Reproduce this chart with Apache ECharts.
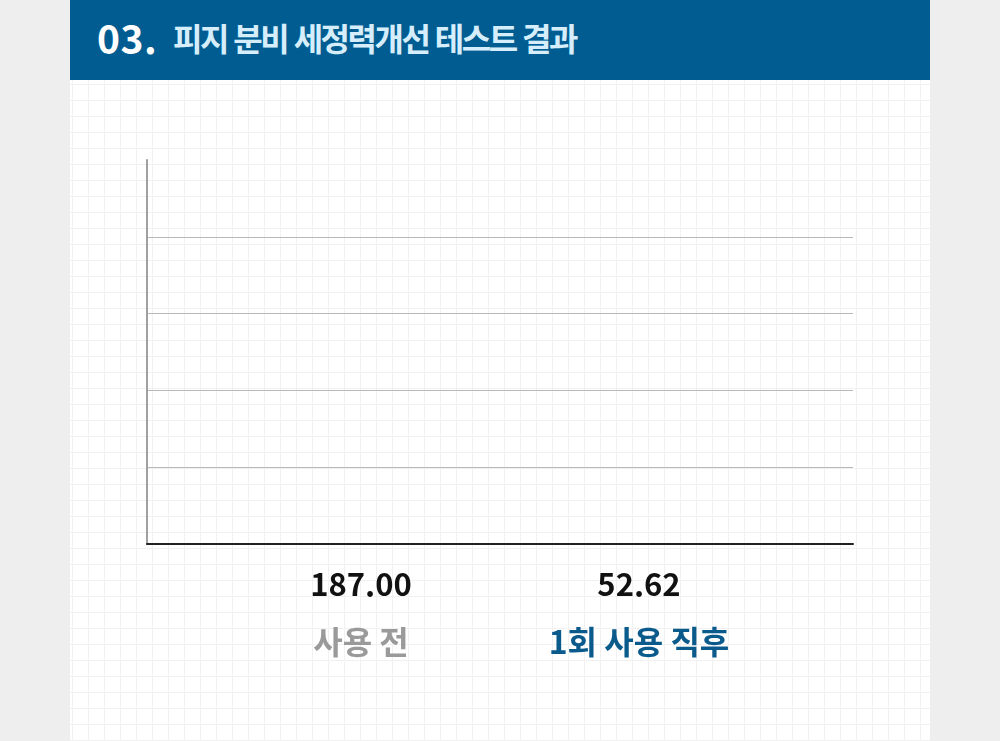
<!DOCTYPE html>
<html lang="ko">
<head>
    <meta charset="UTF-8">
    <title>피지 분비 세정력개선 테스트 결과</title>
    <script type="text/javascript" src="https://cdn.jsdelivr.net/npm/echarts@6/dist/echarts.min.js"></script>
    <style>
        html, body { margin: 0; padding: 0; }
        body {
            width: 1000px; height: 741px; overflow: hidden; position: relative;
            background: #eeeeee;
            font-family: "Noto Sans CJK KR", "Noto Sans", sans-serif;
        }
        #panel {
            position: absolute; left: 70px; top: 0; width: 860px; height: 741px;
            background-color: #ffffff;
            background-image:
                linear-gradient(#f1f1f1 1px, transparent 1px),
                linear-gradient(90deg, #f1f1f1 1px, transparent 1px);
            background-size: 16px 16px;
            background-position: 2px 4px;
        }
        #header {
            position: absolute; left: 70px; top: 0; width: 860px; height: 80px;
            background: #015d91;
        }
        #header .num {
            position: absolute; left: 27px; top: 9px;
            color: #ffffff; font-size: 39px; font-weight: 700; letter-spacing: 0.5px;
        }
        #header .ttl {
            position: absolute; left: 103px; top: 14px;
            color: #d6eefc; font-size: 32px; font-weight: 700; letter-spacing: -2.5px;
        }
        #main { position: absolute; left: 0; top: 0; width: 1000px; height: 741px; }
    </style>
</head>
<body>
<div id="panel"></div>
<div id="header"><span class="num">03.</span><span class="ttl">피지 분비 세정력개선 테스트 결과</span></div>
<div id="main"></div>
<script type="text/javascript">
    // 데이터
    var categories = ['사용 전', '1회 사용 직후'];
    var values = [187.00, 52.62];
    var nameColors = ['#9a9a9a', '#0a5a8c'];

    var rich = {
        v: { fontSize: 31, fontWeight: 700, color: '#111111', lineHeight: 58,
             fontFamily: 'Noto Sans CJK KR' }
    };
    nameColors.forEach(function (c, i) {
        rich['c' + i] = { fontSize: 32, fontWeight: 700, color: c, lineHeight: 58,
                          fontFamily: 'Noto Sans CJK KR' };
    });

    var option = {
        animation: false,
        grid: [
            { left: 147, right: 147, top: 160, bottom: 197 },
            { left: 222, right: 222, top: 160, bottom: 197 }
        ],
        xAxis: [
            {
                gridIndex: 0,
                type: 'category',
                data: categories,
                axisLine: { lineStyle: { color: '#222222', width: 2 } },
                axisTick: { show: false },
                axisLabel: { show: false }
            },
            {
                gridIndex: 1,
                type: 'category',
                data: categories,
                axisLine: { show: false },
                axisTick: { show: false },
                axisLabel: {
                    margin: 11,
                    formatter: function (value, index) {
                        return '{v|' + values[index].toFixed(2) + '}\n{c' + index + '|' + value + '}';
                    },
                    rich: rich
                }
            }
        ],
        yAxis: [
            {
                gridIndex: 0,
                type: 'value',
                min: 0,
                max: 250,
                interval: 50,
                axisLine: { show: true, lineStyle: { color: '#a0a0a0', width: 2 } },
                axisTick: { show: false },
                axisLabel: { show: false },
                splitLine: {
                    lineStyle: {
                        color: ['#b8b8b8', '#b8b8b8', '#b8b8b8', '#b8b8b8', '#b8b8b8', 'rgba(0,0,0,0)'],
                        width: 1
                    }
                }
            },
            {
                gridIndex: 1,
                type: 'value',
                min: 0,
                max: 250,
                show: false
            }
        ],
        series: [
            {
                type: 'bar',
                xAxisIndex: 1,
                yAxisIndex: 1,
                data: values,
                barWidth: 100,
                // 막대는 참조 이미지에서 보이지 않음
                itemStyle: { opacity: 0 }
            }
        ]
    };

    var myChart = echarts.init(document.getElementById('main'));
    myChart.setOption(option);
</script>
</body>
</html>
